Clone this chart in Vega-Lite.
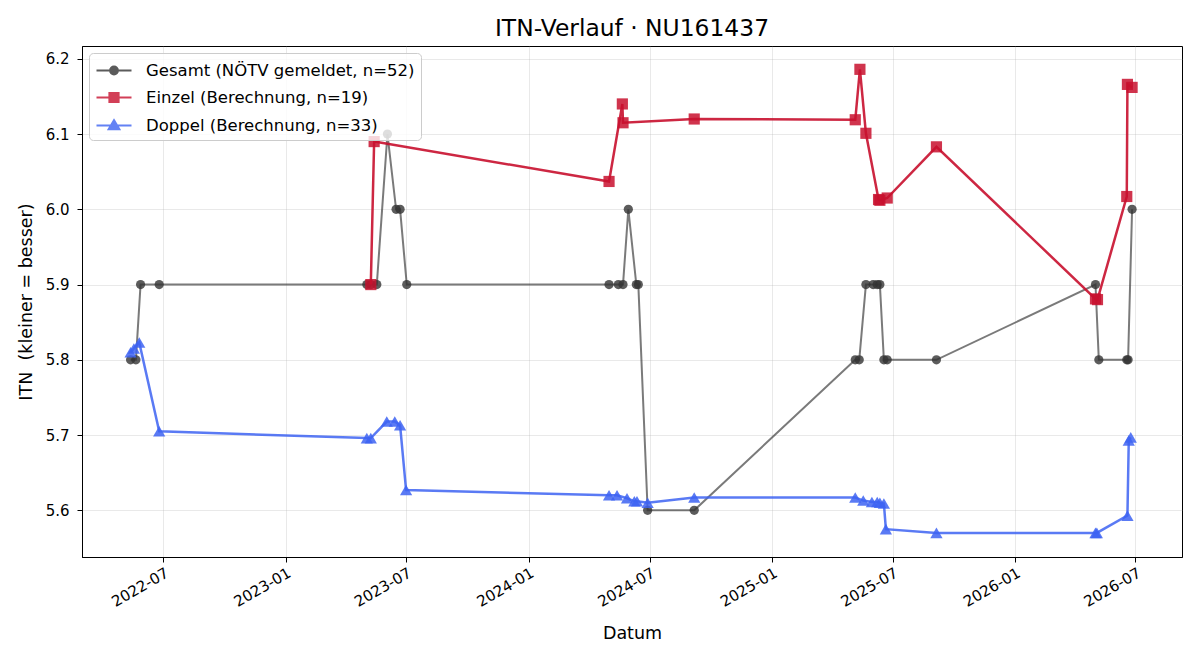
{
  "$schema": "https://vega.github.io/schema/vega-lite/v6.json",
  "width": 1100,
  "height": 511,
  "autosize": {"type": "none"},
  "padding": {"left": 82, "top": 46, "right": 18, "bottom": 103},
  "background": "white",
  "title": {"text": "ITN-Verlauf · NU161437", "font": "DejaVu Sans", "fontSize": 23.4, "fontWeight": "normal", "color": "#000", "offset": 5, "anchor": "middle"},
  "config": {
    "font": "DejaVu Sans",
    "view": {"stroke": "#000", "strokeWidth": 1},
    "axis": {
      "labelFont": "DejaVu Sans", "labelFontSize": 15, "labelColor": "#000",
      "titleFont": "DejaVu Sans", "titleFontSize": 17.5, "titleFontWeight": "normal", "titleColor": "#000",
      "tickColor": "#000", "tickSize": 5, "domainColor": "#000",
      "grid": true, "gridColor": "#b0b0b0", "gridOpacity": 0.35, "gridWidth": 0.8,
      "labelFlush": false, "labelOverlap": false
    },
    "legend": {
      "orient": "top-left", "offset": 7, "padding": 6,
      "fillColor": "rgba(255,255,255,0.8)", "strokeColor": "#cccccc", "cornerRadius": 4,
      "labelFont": "DejaVu Sans", "labelFontSize": 16.5, "labelColor": "#000", "labelLimit": 500,
      "symbolSize": 400, "rowPadding": 7, "labelOffset": 28, "symbolStrokeWidth": 2.2, "symbolOpacity": 0.8
    }
  },
  "data": {
    "values": [
      {"s": "G", "serie": "Gesamt (NÖTV gemeldet, n=52)", "date": "2022-05-13", "itn": 5.8},
      {"s": "G", "serie": "Gesamt (NÖTV gemeldet, n=52)", "date": "2022-05-21", "itn": 5.8},
      {"s": "G", "serie": "Gesamt (NÖTV gemeldet, n=52)", "date": "2022-05-28", "itn": 5.9},
      {"s": "G", "serie": "Gesamt (NÖTV gemeldet, n=52)", "date": "2022-06-25", "itn": 5.9},
      {"s": "G", "serie": "Gesamt (NÖTV gemeldet, n=52)", "date": "2023-05-03", "itn": 5.9},
      {"s": "G", "serie": "Gesamt (NÖTV gemeldet, n=52)", "date": "2023-05-09", "itn": 5.9},
      {"s": "G", "serie": "Gesamt (NÖTV gemeldet, n=52)", "date": "2023-05-18", "itn": 5.9},
      {"s": "G", "serie": "Gesamt (NÖTV gemeldet, n=52)", "date": "2023-06-03", "itn": 6.1},
      {"s": "G", "serie": "Gesamt (NÖTV gemeldet, n=52)", "date": "2023-06-16", "itn": 6.0},
      {"s": "G", "serie": "Gesamt (NÖTV gemeldet, n=52)", "date": "2023-06-22", "itn": 6.0},
      {"s": "G", "serie": "Gesamt (NÖTV gemeldet, n=52)", "date": "2023-07-02", "itn": 5.9},
      {"s": "G", "serie": "Gesamt (NÖTV gemeldet, n=52)", "date": "2024-05-01", "itn": 5.9},
      {"s": "G", "serie": "Gesamt (NÖTV gemeldet, n=52)", "date": "2024-05-15", "itn": 5.9},
      {"s": "G", "serie": "Gesamt (NÖTV gemeldet, n=52)", "date": "2024-05-22", "itn": 5.9},
      {"s": "G", "serie": "Gesamt (NÖTV gemeldet, n=52)", "date": "2024-05-30", "itn": 6.0},
      {"s": "G", "serie": "Gesamt (NÖTV gemeldet, n=52)", "date": "2024-06-11", "itn": 5.9},
      {"s": "G", "serie": "Gesamt (NÖTV gemeldet, n=52)", "date": "2024-06-14", "itn": 5.9},
      {"s": "G", "serie": "Gesamt (NÖTV gemeldet, n=52)", "date": "2024-06-28", "itn": 5.6},
      {"s": "G", "serie": "Gesamt (NÖTV gemeldet, n=52)", "date": "2024-09-06", "itn": 5.6},
      {"s": "G", "serie": "Gesamt (NÖTV gemeldet, n=52)", "date": "2025-05-06", "itn": 5.8},
      {"s": "G", "serie": "Gesamt (NÖTV gemeldet, n=52)", "date": "2025-05-12", "itn": 5.8},
      {"s": "G", "serie": "Gesamt (NÖTV gemeldet, n=52)", "date": "2025-05-22", "itn": 5.9},
      {"s": "G", "serie": "Gesamt (NÖTV gemeldet, n=52)", "date": "2025-06-02", "itn": 5.9},
      {"s": "G", "serie": "Gesamt (NÖTV gemeldet, n=52)", "date": "2025-06-08", "itn": 5.9},
      {"s": "G", "serie": "Gesamt (NÖTV gemeldet, n=52)", "date": "2025-06-12", "itn": 5.9},
      {"s": "G", "serie": "Gesamt (NÖTV gemeldet, n=52)", "date": "2025-06-18", "itn": 5.8},
      {"s": "G", "serie": "Gesamt (NÖTV gemeldet, n=52)", "date": "2025-06-23", "itn": 5.8},
      {"s": "G", "serie": "Gesamt (NÖTV gemeldet, n=52)", "date": "2025-09-05", "itn": 5.8},
      {"s": "G", "serie": "Gesamt (NÖTV gemeldet, n=52)", "date": "2026-05-02", "itn": 5.9},
      {"s": "G", "serie": "Gesamt (NÖTV gemeldet, n=52)", "date": "2026-05-07", "itn": 5.8},
      {"s": "G", "serie": "Gesamt (NÖTV gemeldet, n=52)", "date": "2026-06-18", "itn": 5.8},
      {"s": "G", "serie": "Gesamt (NÖTV gemeldet, n=52)", "date": "2026-06-20", "itn": 5.8},
      {"s": "G", "serie": "Gesamt (NÖTV gemeldet, n=52)", "date": "2026-06-26", "itn": 6.0},

      {"s": "E", "serie": "Einzel (Berechnung, n=19)", "date": "2023-05-09", "itn": 5.9},
      {"s": "E", "serie": "Einzel (Berechnung, n=19)", "date": "2023-05-14", "itn": 6.09},
      {"s": "E", "serie": "Einzel (Berechnung, n=19)", "date": "2024-05-01", "itn": 6.037},
      {"s": "E", "serie": "Einzel (Berechnung, n=19)", "date": "2024-05-21", "itn": 6.14},
      {"s": "E", "serie": "Einzel (Berechnung, n=19)", "date": "2024-05-22", "itn": 6.115},
      {"s": "E", "serie": "Einzel (Berechnung, n=19)", "date": "2024-09-06", "itn": 6.12},
      {"s": "E", "serie": "Einzel (Berechnung, n=19)", "date": "2025-05-06", "itn": 6.119},
      {"s": "E", "serie": "Einzel (Berechnung, n=19)", "date": "2025-05-13", "itn": 6.186},
      {"s": "E", "serie": "Einzel (Berechnung, n=19)", "date": "2025-05-22", "itn": 6.101},
      {"s": "E", "serie": "Einzel (Berechnung, n=19)", "date": "2025-06-10", "itn": 6.013},
      {"s": "E", "serie": "Einzel (Berechnung, n=19)", "date": "2025-06-12", "itn": 6.012},
      {"s": "E", "serie": "Einzel (Berechnung, n=19)", "date": "2025-06-23", "itn": 6.015},
      {"s": "E", "serie": "Einzel (Berechnung, n=19)", "date": "2025-09-05", "itn": 6.083},
      {"s": "E", "serie": "Einzel (Berechnung, n=19)", "date": "2026-05-02", "itn": 5.881},
      {"s": "E", "serie": "Einzel (Berechnung, n=19)", "date": "2026-05-05", "itn": 5.88},
      {"s": "E", "serie": "Einzel (Berechnung, n=19)", "date": "2026-06-18", "itn": 6.017},
      {"s": "E", "serie": "Einzel (Berechnung, n=19)", "date": "2026-06-19", "itn": 6.166},
      {"s": "E", "serie": "Einzel (Berechnung, n=19)", "date": "2026-06-26", "itn": 6.162},

      {"s": "D", "serie": "Doppel (Berechnung, n=33)", "date": "2022-05-13", "itn": 5.81},
      {"s": "D", "serie": "Doppel (Berechnung, n=33)", "date": "2022-05-18", "itn": 5.815},
      {"s": "D", "serie": "Doppel (Berechnung, n=33)", "date": "2022-05-26", "itn": 5.823},
      {"s": "D", "serie": "Doppel (Berechnung, n=33)", "date": "2022-06-25", "itn": 5.705},
      {"s": "D", "serie": "Doppel (Berechnung, n=33)", "date": "2023-05-03", "itn": 5.696},
      {"s": "D", "serie": "Doppel (Berechnung, n=33)", "date": "2023-05-09", "itn": 5.696},
      {"s": "D", "serie": "Doppel (Berechnung, n=33)", "date": "2023-06-02", "itn": 5.718},
      {"s": "D", "serie": "Doppel (Berechnung, n=33)", "date": "2023-06-14", "itn": 5.718},
      {"s": "D", "serie": "Doppel (Berechnung, n=33)", "date": "2023-06-22", "itn": 5.713},
      {"s": "D", "serie": "Doppel (Berechnung, n=33)", "date": "2023-07-01", "itn": 5.627},
      {"s": "D", "serie": "Doppel (Berechnung, n=33)", "date": "2024-05-01", "itn": 5.62},
      {"s": "D", "serie": "Doppel (Berechnung, n=33)", "date": "2024-05-13", "itn": 5.62},
      {"s": "D", "serie": "Doppel (Berechnung, n=33)", "date": "2024-05-28", "itn": 5.616},
      {"s": "D", "serie": "Doppel (Berechnung, n=33)", "date": "2024-06-08", "itn": 5.612},
      {"s": "D", "serie": "Doppel (Berechnung, n=33)", "date": "2024-06-12", "itn": 5.612},
      {"s": "D", "serie": "Doppel (Berechnung, n=33)", "date": "2024-06-28", "itn": 5.61},
      {"s": "D", "serie": "Doppel (Berechnung, n=33)", "date": "2024-09-06", "itn": 5.617},
      {"s": "D", "serie": "Doppel (Berechnung, n=33)", "date": "2025-05-06", "itn": 5.617},
      {"s": "D", "serie": "Doppel (Berechnung, n=33)", "date": "2025-05-18", "itn": 5.613},
      {"s": "D", "serie": "Doppel (Berechnung, n=33)", "date": "2025-05-31", "itn": 5.611},
      {"s": "D", "serie": "Doppel (Berechnung, n=33)", "date": "2025-06-08", "itn": 5.611},
      {"s": "D", "serie": "Doppel (Berechnung, n=33)", "date": "2025-06-12", "itn": 5.61},
      {"s": "D", "serie": "Doppel (Berechnung, n=33)", "date": "2025-06-18", "itn": 5.609},
      {"s": "D", "serie": "Doppel (Berechnung, n=33)", "date": "2025-06-21", "itn": 5.575},
      {"s": "D", "serie": "Doppel (Berechnung, n=33)", "date": "2025-09-05", "itn": 5.57},
      {"s": "D", "serie": "Doppel (Berechnung, n=33)", "date": "2026-05-02", "itn": 5.57},
      {"s": "D", "serie": "Doppel (Berechnung, n=33)", "date": "2026-05-04", "itn": 5.57},
      {"s": "D", "serie": "Doppel (Berechnung, n=33)", "date": "2026-06-19", "itn": 5.593},
      {"s": "D", "serie": "Doppel (Berechnung, n=33)", "date": "2026-06-21", "itn": 5.693},
      {"s": "D", "serie": "Doppel (Berechnung, n=33)", "date": "2026-06-24", "itn": 5.697}
    ]
  },
  "encoding": {
    "x": {
      "field": "date", "type": "temporal",
      "scale": {"domain": [{"year": 2022, "month": 3, "date": 1}, {"year": 2026, "month": 9, "date": 9}], "nice": false},
      "axis": {
        "title": "Datum",
        "values": [
          {"year": 2022, "month": 7, "date": 1}, {"year": 2023, "month": 1, "date": 1},
          {"year": 2023, "month": 7, "date": 1}, {"year": 2024, "month": 1, "date": 1},
          {"year": 2024, "month": 7, "date": 1}, {"year": 2025, "month": 1, "date": 1},
          {"year": 2025, "month": 7, "date": 1}, {"year": 2026, "month": 1, "date": 1},
          {"year": 2026, "month": 7, "date": 1}
        ],
        "format": "%Y-%m", "labelAngle": -30, "labelAlign": "right", "labelBaseline": "top",
        "labelPadding": 3, "titlePadding": 15
      }
    },
    "y": {
      "field": "itn", "type": "quantitative",
      "scale": {"domain": [5.538, 6.217], "nice": false, "zero": false},
      "axis": {"title": "ITN\u00a0 (kleiner = besser)", "values": [5.6, 5.7, 5.8, 5.9, 6.0, 6.1, 6.2], "format": ".1f", "labelPadding": 8, "titlePadding": 10}
    }
  },
  "layer": [
    {"transform": [{"filter": "datum.s === 'G'"}], "mark": {"type": "line", "color": "#333333", "opacity": 0.65, "strokeWidth": 2}},
    {"transform": [{"filter": "datum.s === 'G'"}], "mark": {"type": "point", "color": "#333333", "shape": "circle", "filled": true, "size": 85, "opacity": 0.8}},
    {"transform": [{"filter": "datum.s === 'E'"}], "mark": {"type": "line", "color": "#c8102e", "opacity": 0.9, "strokeWidth": 2.5}},
    {"transform": [{"filter": "datum.s === 'E'"}], "mark": {"type": "point", "color": "#c8102e", "shape": "square", "filled": true, "size": 125, "opacity": 0.85}},
    {"transform": [{"filter": "datum.s === 'D'"}], "mark": {"type": "line", "color": "#3d63f2", "opacity": 0.85, "strokeWidth": 2.5}},
    {"transform": [{"filter": "datum.s === 'D'"}], "mark": {"type": "point", "color": "#3d63f2", "shape": "triangle-up", "filled": true, "size": 150, "opacity": 0.85}},
    {
      "transform": [{"filter": "false"}],
      "mark": {"type": "point", "filled": true, "strokeWidth": 2.2, "opacity": 0.8},
      "encoding": {
        "fill": {
          "field": "serie", "type": "nominal",
          "scale": {"domain": ["Gesamt (NÖTV gemeldet, n=52)", "Einzel (Berechnung, n=19)", "Doppel (Berechnung, n=33)"], "range": ["#333333", "#c8102e", "#3d63f2"]},
          "legend": {"title": null}
        },
        "stroke": {
          "field": "serie", "type": "nominal",
          "scale": {"domain": ["Gesamt (NÖTV gemeldet, n=52)", "Einzel (Berechnung, n=19)", "Doppel (Berechnung, n=33)"], "range": ["#333333", "#c8102e", "#3d63f2"]},
          "legend": {"title": null}
        },
        "shape": {
          "field": "serie", "type": "nominal",
          "scale": {"domain": ["Gesamt (NÖTV gemeldet, n=52)", "Einzel (Berechnung, n=19)", "Doppel (Berechnung, n=33)"], "range": ["M-1,0L2.5,0M1.13,0A0.38,0.38,0,1,1,0.37,0A0.38,0.38,0,1,1,1.13,0Z", "M-1,0L2.5,0M0.3,-0.45L1.2,-0.45L1.2,0.45L0.3,0.45Z", "M-1,0L2.5,0M0.75,-0.52L1.27,0.36L0.23,0.36Z"]},
          "legend": {"title": null}
        }
      }
    }
  ]
}
